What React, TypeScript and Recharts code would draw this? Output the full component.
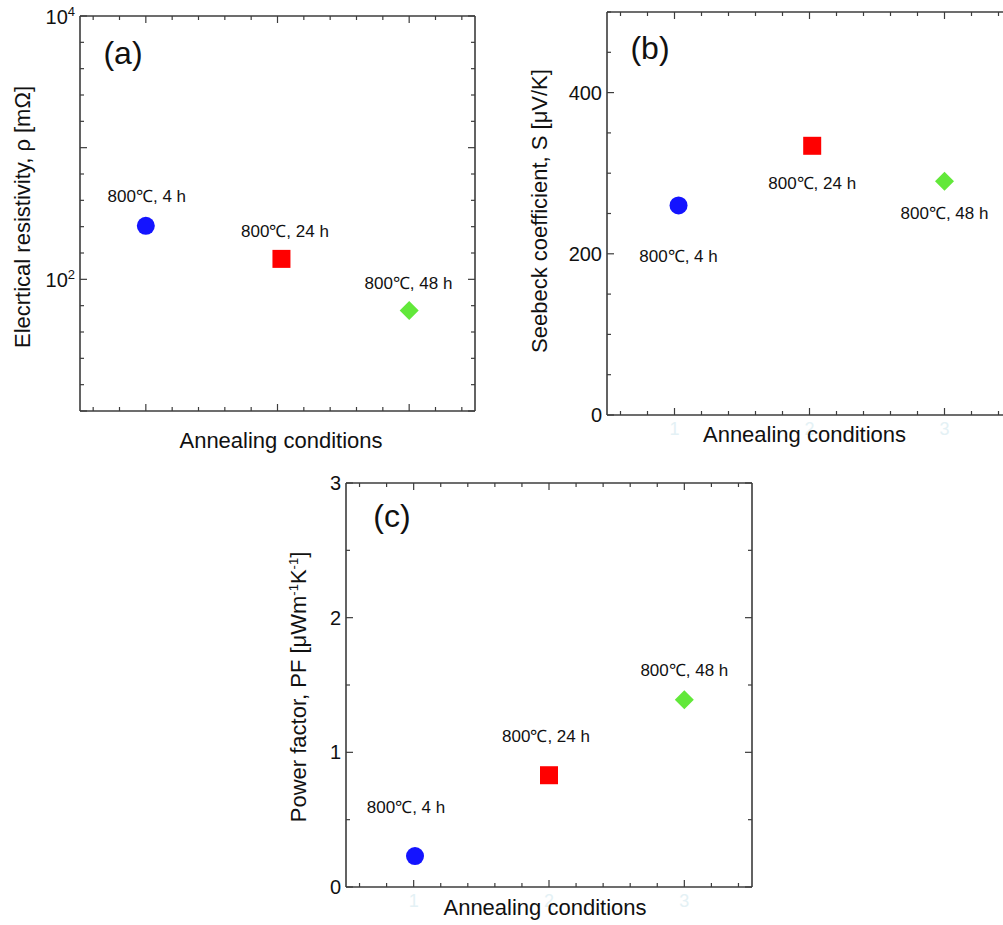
import React from "react";
import { ScatterChart, Scatter, XAxis, YAxis } from "recharts";

// ---------- data ----------
const conditions = ["800℃, 4 h", "800℃, 24 h", "800℃, 48 h"];
const xTickValues = [0.6, 0.8, 1, 1.2, 1.4, 1.6, 1.8, 2, 2.2, 2.4, 2.6, 2.8, 3, 3.2, 3.4];
const xTickLabels = [1, 2, 3];

const resistivityX = [1.0, 2.03, 3.0];
const resistivity = [255, 143, 58];
const resistivityTicks = [10, 15.85, 25.12, 39.81, 63.1, 100, 158.5, 251.2, 398.1, 631, 1000, 1585, 2512, 3981, 6310, 10000];
const resistivityLabelValues = [100, 10000];

const seebeckX = [1.03, 2.02, 3.0];
const seebeck = [260, 334, 290];
const seebeckTicks = [0, 50, 100, 150, 200, 250, 300, 350, 400, 450, 500];
const seebeckLabelValues = [0, 200, 400];

const powerFactorX = [1.01, 2.0, 3.0];
const powerFactor = [0.23, 0.83, 1.39];
const powerFactorTicks = [0, 0.5, 1, 1.5, 2, 2.5, 3];
const powerFactorLabelValues = [0, 1, 2, 3];

// ---------- styles ----------
const FONT = "Arial, 'Liberation Sans', Helvetica, sans-serif";
const AXIS = "#3c3c3c";
const TEXT = "#111111";
const FAINT = "#e4f1f5";
const markerKinds = ["circle", "square", "diamond"];
const markerColors = ["#1414ff", "#ff0000", "#62e83a"];

const offsetsA = [[1, -29], [3.5, -27], [-0.7, -26.5]];
const offsetsB = [[0, 51], [0, 38], [0, 32]];
const offsetsC = [[-9, -49], [-3, -39], [0, -29]];

const near = (a: number, b: number) => Math.abs(a - b) < 1e-6;

function makeShape(kind: string, color: string, label: string, dx: number, dy: number) {
  return (props: any) => {
    const { cx, cy } = props;
    if (cx == null || cy == null) return <g />;
    let mark;
    if (kind === "circle") mark = <circle cx={cx} cy={cy} r={9} fill={color} />;
    else if (kind === "square") mark = <rect x={cx - 9} y={cy - 9} width={18} height={18} fill={color} />;
    else
      mark = (
        <polygon
          points={`${cx},${cy - 9.5} ${cx + 9.5},${cy} ${cx},${cy + 9.5} ${cx - 9.5},${cy}`}
          fill={color}
        />
      );
    return (
      <g>
        {mark}
        <text
          x={cx + dx}
          y={cy + dy}
          textAnchor="middle"
          dominantBaseline="central"
          fontSize={17}
          fontFamily={FONT}
          fill={TEXT}
        >
          {label}
        </text>
      </g>
    );
  };
}

const EmptyShape = () => <g />;

const BottomTick = (props: any) => {
  const { x, y, payload, showLabels } = props;
  const v = payload.value;
  const major = xTickLabels.some((t) => near(t, v));
  return (
    <g>
      <line x1={x} x2={x} y1={y} y2={y - (major ? 7 : 4)} stroke={AXIS} strokeWidth={1.2} />
      {showLabels && major ? (
        <text x={x} y={y + 14} textAnchor="middle" dominantBaseline="central" fontSize={18} fontFamily={FONT} fill={FAINT}>
          {v}
        </text>
      ) : null}
    </g>
  );
};

const TopTick = (props: any) => {
  const { x, y, payload } = props;
  const major = xTickLabels.some((t) => near(t, payload.value));
  return <line x1={x} x2={x} y1={y} y2={y + (major ? 7 : 4)} stroke={AXIS} strokeWidth={1.2} />;
};

const LeftTick = (props: any) => {
  const { x, y, payload, labelValues, isMajor, logLabels } = props;
  const v = payload.value;
  const major = isMajor(v);
  const hasLabel = labelValues.some((t: number) => Math.abs(t - v) < 1e-6 * Math.max(1, Math.abs(t)));
  let label = null;
  if (hasLabel) {
    if (logLabels) {
      const exp = Math.round(Math.log10(v));
      label = (
        <text x={x - 5} y={y + 8} textAnchor="end" fontSize={20} fontFamily={FONT} fill={TEXT}>
          10
          <tspan dy={-8} fontSize={13}>
            {exp}
          </tspan>
        </text>
      );
    } else {
      label = (
        <text x={x - 5} y={y} textAnchor="end" dominantBaseline="central" fontSize={20} fontFamily={FONT} fill={TEXT}>
          {v}
        </text>
      );
    }
  }
  return (
    <g>
      <line x1={x} x2={x + (major ? 7 : 4)} y1={y} y2={y} stroke={AXIS} strokeWidth={1.2} />
      {label}
    </g>
  );
};

const RightTick = (props: any) => {
  const { x, y, payload, isMajor } = props;
  const major = isMajor(payload.value);
  return <line x1={x} x2={x - (major ? 7 : 4)} y1={y} y2={y} stroke={AXIS} strokeWidth={1.2} />;
};

type PanelProps = {
  left: number;
  top: number;
  width: number;
  height: number;
  margin: { top: number; right: number; bottom: number; left: number };
  xs: number[];
  ys: number[];
  yDomain: [number, number];
  yScale: "log" | "linear";
  yTicks: number[];
  yLabelValues: number[];
  isMajorY: (v: number) => boolean;
  logLabels: boolean;
  showXLabels: boolean;
  offsets: number[][];
};

function Panel(p: PanelProps) {
  const axisLine = { stroke: AXIS, strokeWidth: 1.6 };
  const points = p.xs.map((x, i) => ({ x, y: p.ys[i] }));
  // the mirrored axes take 1px each, so the margins shrink by 1px
  const margin = { ...p.margin, top: p.margin.top - 1, right: p.margin.right - 1 };
  return (
    <div style={{ position: "absolute", left: p.left, top: p.top, width: p.width, height: p.height }}>
      <ScatterChart width={p.width} height={p.height} margin={margin}>
        <XAxis
          type="number"
          dataKey="x"
          domain={[0.5, 3.5]}
          ticks={xTickValues}
          interval={0}
          allowDataOverflow
          height={30}
          tickSize={0}
          tickMargin={0}
          tickLine={false}
          axisLine={axisLine}
          tick={<BottomTick showLabels={p.showXLabels} />}
        />
        <XAxis
          xAxisId="top"
          orientation="top"
          type="number"
          dataKey="x"
          domain={[0.5, 3.5]}
          ticks={xTickValues}
          interval={0}
          allowDataOverflow
          height={1}
          tickSize={0}
          tickMargin={0}
          tickLine={false}
          axisLine={axisLine}
          tick={<TopTick />}
        />
        <YAxis
          type="number"
          dataKey="y"
          scale={p.yScale}
          domain={p.yDomain}
          ticks={p.yTicks}
          interval={0}
          allowDataOverflow
          width={60}
          tickSize={0}
          tickMargin={0}
          tickLine={false}
          axisLine={axisLine}
          tick={<LeftTick labelValues={p.yLabelValues} isMajor={p.isMajorY} logLabels={p.logLabels} />}
        />
        <YAxis
          yAxisId="right"
          orientation="right"
          type="number"
          dataKey="y"
          scale={p.yScale}
          domain={p.yDomain}
          ticks={p.yTicks}
          interval={0}
          allowDataOverflow
          width={1}
          tickSize={0}
          tickMargin={0}
          tickLine={false}
          axisLine={axisLine}
          tick={<RightTick isMajor={p.isMajorY} />}
        />
        {/* frame series: binds the mirrored top/right axes, draws nothing */}
        <Scatter
          name="frame"
          xAxisId="top"
          yAxisId="right"
          data={points}
          isAnimationActive={false}
          shape={EmptyShape}
        />
        {conditions.map((c, i) => (
          <Scatter
            key={c}
            name={c}
            data={[points[i]]}
            isAnimationActive={false}
            shape={makeShape(markerKinds[i], markerColors[i], c, p.offsets[i][0], p.offsets[i][1])}
          />
        ))}
      </ScatterChart>
    </div>
  );
}

export default function App() {
  return (
    <div
      style={{
        position: "absolute",
        left: 0,
        top: 0,
        width: 1003,
        height: 925,
        overflow: "hidden",
        background: "#ffffff",
        fontFamily: FONT,
      }}
    >
      <Panel
        left={0}
        top={0}
        width={480}
        height={460}
        margin={{ top: 16, right: 5, bottom: 19, left: 20 }}
        xs={resistivityX}
        ys={resistivity}
        yDomain={[10, 10000]}
        yScale="log"
        yTicks={resistivityTicks}
        yLabelValues={resistivityLabelValues}
        isMajorY={(v) => Math.abs(Math.log10(v) - Math.round(Math.log10(v))) < 0.01}
        logLabels={true}
        showXLabels={false}
        offsets={offsetsA}
      />
      <Panel
        left={520}
        top={0}
        width={500}
        height={460}
        margin={{ top: 12, right: 8, bottom: 15, left: 27 }}
        xs={seebeckX}
        ys={seebeck}
        yDomain={[0, 500]}
        yScale="linear"
        yTicks={seebeckTicks}
        yLabelValues={seebeckLabelValues}
        isMajorY={(v) => near(v % 200, 0)}
        logLabels={false}
        showXLabels={true}
        offsets={offsetsB}
      />
      <Panel
        left={260}
        top={470}
        width={500}
        height={455}
        margin={{ top: 13, right: 8, bottom: 8, left: 26 }}
        xs={powerFactorX}
        ys={powerFactor}
        yDomain={[0, 3]}
        yScale="linear"
        yTicks={powerFactorTicks}
        yLabelValues={powerFactorLabelValues}
        isMajorY={(v) => near(v, Math.round(v))}
        logLabels={false}
        showXLabels={true}
        offsets={offsetsC}
      />
      <svg
        width={1003}
        height={925}
        style={{ position: "absolute", left: 0, top: 0, pointerEvents: "none" }}
        fontFamily={FONT}
      >
        {/* panel (a) */}
        <text x={123} y={53} textAnchor="middle" dominantBaseline="central" fontSize={32} fill={TEXT}>
          (a)
        </text>
        <text x={281} y={448} textAnchor="middle" fontSize={22} fill={TEXT}>
          Annealing conditions
        </text>
        <text
          transform="translate(22.5,217) rotate(-90)"
          textAnchor="middle"
          dominantBaseline="central"
          fontSize={22}
          fill={TEXT}
        >
          Elecrtical resistivity, ρ [mΩ]
        </text>
        {/* panel (b) */}
        <text x={650} y={48} textAnchor="middle" dominantBaseline="central" fontSize={32} fill={TEXT}>
          (b)
        </text>
        <text x={804.5} y={442} textAnchor="middle" fontSize={22} fill={TEXT}>
          Annealing conditions
        </text>
        <text
          transform="translate(539,211) rotate(-90)"
          textAnchor="middle"
          dominantBaseline="central"
          fontSize={22}
          fill={TEXT}
        >
          Seebeck coefficient, S [μV/K]
        </text>
        {/* panel (c) */}
        <text x={392} y={516} textAnchor="middle" dominantBaseline="central" fontSize={32} fill={TEXT}>
          (c)
        </text>
        <text x={545} y={915} textAnchor="middle" fontSize={22} fill={TEXT}>
          Annealing conditions
        </text>
        <text transform="translate(298,687) rotate(-90)" textAnchor="middle" fontSize={22} fill={TEXT} dy={8}>
          Power factor, PF [μWm
          <tspan dy={-8} fontSize={13}>
            -1
          </tspan>
          <tspan dy={8}>K</tspan>
          <tspan dy={-8} fontSize={13}>
            -1
          </tspan>
          <tspan dy={8}>]</tspan>
        </text>
      </svg>
    </div>
  );
}
